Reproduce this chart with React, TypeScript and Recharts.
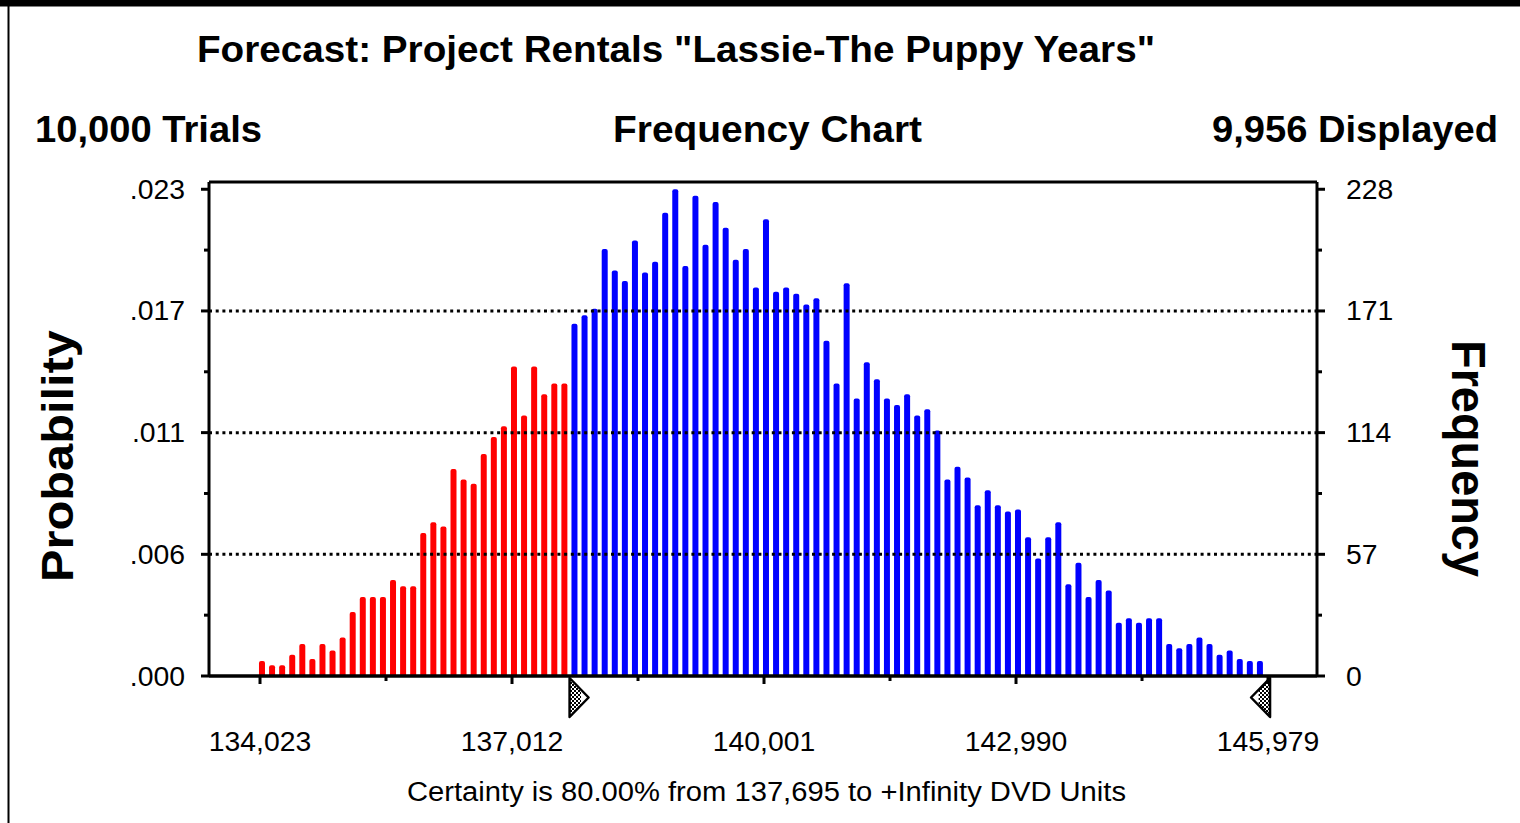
import React from 'react';
import { BarChart, Bar, XAxis, YAxis, Cell, ReferenceLine, ReferenceDot } from 'recharts';

// ---- texts ----
const TITLE = 'Forecast: Project Rentals "Lassie-The Puppy Years"';
const TRIALS_LABEL = '10,000 Trials';
const CHART_KIND = 'Frequency Chart';
const DISPLAYED_LABEL = '9,956 Displayed';
const LEFT_AXIS_TITLE = 'Probability';
const RIGHT_AXIS_TITLE = 'Frequency';
const FOOTER = 'Certainty is 80.00%  from 137,695 to +Infinity DVD Units';

// ---- data ----
const TRIALS = 10000;
const RANGE_MIN = 134023;
const RANGE_MAX = 145979;
const BIN_COUNT = 100;
const BIN_MARK = 0.2; // bar drawn 0.2 bin into each cell
const CERTAINTY_FROM = 137695;
const DISPLAY_END = 146003;

// frequencies of the cells below the certainty bound (red)
const outsideFreq = [
  7, 5, 5, 10, 15, 8, 15, 12, 18, 30, 37, 37, 37, 45, 42, 42, 67, 72, 70, 97,
  92, 90, 104, 112, 117, 145, 122, 145, 132, 137, 137,
];
// frequencies of the cells inside the certainty range (blue)
const insideFreq = [
  165, 169, 172, 200, 190, 185, 204, 189, 194, 217,
  228, 192, 225, 202, 222, 210, 195, 200, 182, 214,
  180, 182, 179, 174, 177, 157, 137, 184, 130, 147,
  139, 130, 127, 132, 122, 125, 115, 92, 98, 93,
  80, 87, 80, 77, 78, 65, 55, 65, 72, 43,
  53, 37, 45, 40, 25, 27, 25, 27, 27, 15,
  13, 15, 18, 15, 10, 12, 8, 7, 7,
];

const X_MAJOR_TICKS = [134023, 137012, 140001, 142990, 145979];
const X_MINOR_TICKS = [135517.5, 138506.5, 141495.5, 144484.5];
const FREQ_MAJOR_TICKS = [0, 57, 114, 171, 228];
const FREQ_MINOR_TICKS = [28.5, 85.5, 142.5, 199.5];
const GRID_VALUES = [57, 114, 171];

const X_DOMAIN: [number, number] = [133418, 146560];
const Y_TOP = 231.4;

const BIN_WIDTH = (RANGE_MAX - RANGE_MIN) / BIN_COUNT;
const allFreq = [...outsideFreq, ...insideFreq];
const bins = allFreq.map((f, i) => ({
  x: RANGE_MIN + (i + BIN_MARK) * BIN_WIDTH,
  freq: f,
  inside: i >= outsideFreq.length,
}));

const RED = '#FF0000';
const BLUE = '#0000FF';
const FONT = '"Liberation Sans", Arial, sans-serif';
const TICK_FONT = 27;
const STRETCH = 1.05;

const isMajor = (list: number[], v: number) => list.some((t) => Math.abs(t - v) < 1e-6);

const LeftTick = (props: any) => {
  const { x, y, payload } = props;
  const major = isMajor(FREQ_MAJOR_TICKS, payload.value);
  const len = major ? 8 : 5;
  return (
    <g>
      <line x1={x - len} y1={y} x2={x} y2={y} stroke="#000" strokeWidth={3} />
      {major && (
        <text
          transform={`translate(${x - 24},${y + 9.5}) scale(${STRETCH},1)`}
          textAnchor="end"
          fontFamily={FONT}
          fontSize={TICK_FONT}
          fill="#000"
        >
          {(payload.value / TRIALS).toFixed(3).replace(/^0/, '')}
        </text>
      )}
    </g>
  );
};

const RightTick = (props: any) => {
  const { x, y, payload } = props;
  const major = isMajor(FREQ_MAJOR_TICKS, payload.value);
  const len = major ? 8 : 5;
  return (
    <g>
      <line x1={x} y1={y} x2={x + len} y2={y} stroke="#000" strokeWidth={3} />
      {major && (
        <text
          transform={`translate(${x + 29},${y + 9.5}) scale(${STRETCH},1)`}
          textAnchor="start"
          fontFamily={FONT}
          fontSize={TICK_FONT}
          fill="#000"
        >
          {String(payload.value)}
        </text>
      )}
    </g>
  );
};

const BottomTick = (props: any) => {
  const { x, y, payload } = props;
  const major = isMajor(X_MAJOR_TICKS, payload.value);
  const len = major ? 8 : 5;
  return (
    <g>
      <line x1={x} y1={y} x2={x} y2={y + len} stroke="#000" strokeWidth={3} />
      {major && (
        <text
          transform={`translate(${x},${y + 75}) scale(${STRETCH},1)`}
          textAnchor="middle"
          fontFamily={FONT}
          fontSize={TICK_FONT}
          fill="#000"
        >
          {payload.value.toLocaleString('en-US')}
        </text>
      )}
    </g>
  );
};

const makeGrabber = (dir: number, id: string) => (props: any) => {
  const { cx, cy } = props;
  if (cx == null || cy == null) return <g />;
  const top = cy + 2;
  const bottom = cy + 41;
  const mid = (top + bottom) / 2;
  const w = 19;
  const f = 0.6;
  const outer = `${cx},${top} ${cx + dir * w},${mid} ${cx},${bottom}`;
  const inner = `${cx},${top + 2} ${cx + dir * w * f},${top + (mid - top) * f} ${cx + dir * w * f},${bottom - (bottom - mid) * f} ${cx},${bottom - 2}`;
  return (
    <g>
      <defs>
        <pattern id={id} width={4} height={4} patternUnits="userSpaceOnUse">
          <rect width={4} height={4} fill="#fff" />
          <rect width={2} height={2} fill="#000" />
          <rect x={2} y={2} width={2} height={2} fill="#000" />
        </pattern>
      </defs>
      <polygon points={outer} fill="#fff" />
      <polygon points={inner} fill={`url(#${id})`} />
      <polygon points={outer} fill="none" stroke="#000" strokeWidth={2.5} strokeLinejoin="round" />
    </g>
  );
};

const LowerGrabber = makeGrabber(1, 'chkLow');
const UpperGrabber = makeGrabber(-1, 'chkHigh');

export default function App() {
  return (
    <div style={{ position: 'absolute', left: 0, top: 0, width: 1520, height: 823, background: '#fff', overflow: 'hidden' }}>
      <BarChart
        width={1520}
        height={823}
        data={bins}
        margin={{ top: 182, right: 103, bottom: 87, left: 109 }}
      >
        <XAxis
          dataKey="x"
          type="number"
          domain={X_DOMAIN}
          allowDataOverflow
          ticks={[...X_MAJOR_TICKS, ...X_MINOR_TICKS].sort((a, b) => a - b)}
          interval={0}
          height={60}
          tickLine={false}
          tickSize={0}
          tickMargin={0}
          axisLine={{ stroke: '#000', strokeWidth: 3.5 }}
          tick={BottomTick}
        />
        <YAxis
          yAxisId="left"
          orientation="left"
          width={100}
          domain={[0, Y_TOP]}
          allowDataOverflow
          ticks={[...FREQ_MAJOR_TICKS, ...FREQ_MINOR_TICKS].sort((a, b) => a - b)}
          interval={0}
          tickLine={false}
          tickSize={0}
          tickMargin={0}
          axisLine={{ stroke: '#000', strokeWidth: 3 }}
          tick={LeftTick}
        />
        <YAxis
          yAxisId="right"
          orientation="right"
          width={100}
          domain={[0, Y_TOP]}
          allowDataOverflow
          ticks={[...FREQ_MAJOR_TICKS, ...FREQ_MINOR_TICKS].sort((a, b) => a - b)}
          interval={0}
          tickLine={false}
          tickSize={0}
          tickMargin={0}
          axisLine={{ stroke: '#000', strokeWidth: 3 }}
          tick={RightTick}
        />
        <Bar yAxisId="left" dataKey="freq" barSize={6} radius={[2, 2, 0, 0]} isAnimationActive={false}>
          {bins.map((b, i) => (
            <Cell key={i} fill={b.inside ? BLUE : RED} />
          ))}
        </Bar>
        {GRID_VALUES.map((v) => (
          <ReferenceLine key={v} yAxisId="left" y={v} stroke="#000" strokeWidth={3} strokeDasharray="3 3.7" />
        ))}
        <ReferenceLine yAxisId="left" y={Y_TOP} stroke="#000" strokeWidth={3} />
        <ReferenceDot yAxisId="left" x={CERTAINTY_FROM} y={0} r={0} ifOverflow="visible" shape={LowerGrabber} />
        <ReferenceDot yAxisId="left" x={DISPLAY_END} y={0} r={0} ifOverflow="visible" shape={UpperGrabber} />
      </BarChart>

      <svg
        width={1520}
        height={823}
        style={{ position: 'absolute', left: 0, top: 0, pointerEvents: 'none' }}
      >
        <rect x={0} y={0} width={1520} height={6.5} fill="#000" />
        <rect x={7.5} y={0} width={2} height={823} fill="#000" />
        <g fontFamily={FONT} fontWeight="bold" fill="#000">
          <text x={197} y={62} fontSize={37.5} textLength={958} lengthAdjust="spacingAndGlyphs">{TITLE}</text>
          <text x={35} y={142} fontSize={37.5} textLength={227} lengthAdjust="spacingAndGlyphs">{TRIALS_LABEL}</text>
          <text x={613} y={142} fontSize={37.5} textLength={309} lengthAdjust="spacingAndGlyphs">{CHART_KIND}</text>
          <text x={1212} y={142} fontSize={37.5} textLength={286} lengthAdjust="spacingAndGlyphs">{DISPLAYED_LABEL}</text>
          <text transform="translate(73,582) rotate(-90)" fontSize={44} textLength={252} lengthAdjust="spacingAndGlyphs">{LEFT_AXIS_TITLE}</text>
          <text transform="translate(1452,340) rotate(90)" fontSize={48} textLength={237} lengthAdjust="spacingAndGlyphs">{RIGHT_AXIS_TITLE}</text>
        </g>
        <text x={407} y={801} fontFamily={FONT} fontSize={27} fill="#000" textLength={719} lengthAdjust="spacingAndGlyphs">{FOOTER}</text>
      </svg>
    </div>
  );
}
